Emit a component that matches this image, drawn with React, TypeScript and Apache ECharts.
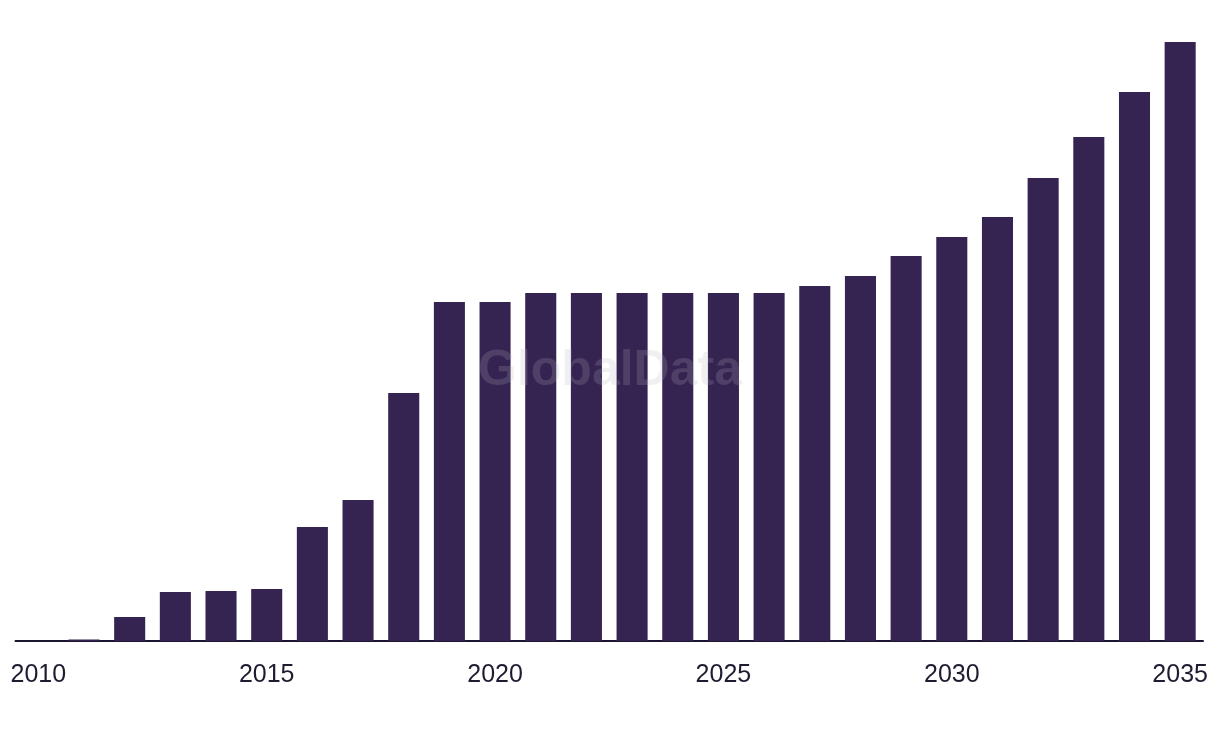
import React, { useEffect, useRef } from "react";
import * as echarts from "echarts";

const years = [
  "2010", "2011", "2012", "2013", "2014", "2015", "2016", "2017", "2018",
  "2019", "2020", "2021", "2022", "2023", "2024", "2025", "2026", "2027",
  "2028", "2029", "2030", "2031", "2032", "2033", "2034", "2035",
];

const values = [
  0, 1.5, 24, 49, 50, 52, 114, 141, 248, 339, 339, 348, 348, 348, 348, 348,
  348, 355, 365, 385, 404, 424, 463, 504, 549, 599,
];

const watermark = "GlobalData";

export default function App() {
  const ref = useRef<HTMLDivElement>(null);
  useEffect(() => {
    document.body.style.margin = "0";
    const chart = echarts.init(ref.current!, null, { renderer: "svg" });
    chart.setOption({
      animation: false,
      grid: { left: 15.5, right: 17, top: 42, bottom: 97 },
      graphic: [
        {
          type: "text",
          left: "center",
          top: 343,
          z: 100,
          style: {
            text: watermark,
            font: 'bold 50px "Liberation Sans", Arial, sans-serif',
            fill: "rgba(180,180,190,0.2)",
          },
        },
      ],
      xAxis: {
        type: "category",
        data: years,
        axisLine: { lineStyle: { color: "#1b1530", width: 2 } },
        axisTick: { show: false },
        axisLabel: {
          interval: 4,
          margin: 19,
          color: "#1e1c30",
          fontSize: 25,
          fontFamily: '"Liberation Sans", Arial, sans-serif',
        },
      },
      yAxis: {
        type: "value",
        min: 0,
        max: 599,
        show: false,
        splitLine: { show: false },
      },
      series: [
        {
          type: "bar",
          data: values,
          barCategoryGap: "32%",
          itemStyle: { color: "#352352" },
        },
      ],
    });
    return () => chart.dispose();
  }, []);
  return (
    <div
      ref={ref}
      style={{ position: "fixed", left: 0, top: 0, width: 1220, height: 738 }}
    />
  );
}
